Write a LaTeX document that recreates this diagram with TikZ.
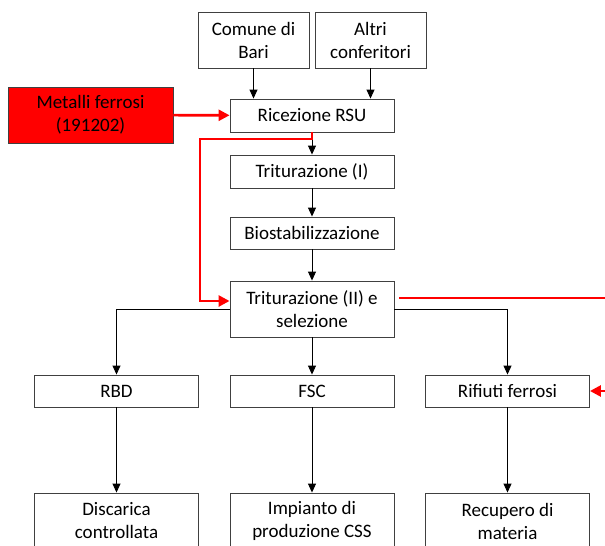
\documentclass[tikz,border=0pt]{standalone}
\usepackage{fontspec}
\setmainfont{Carlito}
\usepackage{tikz}
\usepackage{xcolor}
\usetikzlibrary{arrows.meta}

\begin{document}
\begin{tikzpicture}[x=1pt, y=-1pt,
    box/.style = {draw=black!75, line width=0.9pt, align=center, inner sep=0pt,
      minimum width=164pt, minimum height=33pt, font=\fontsize{19}{23}\selectfont},
    tall/.style = {box, minimum height=56pt},
    flow/.style = {draw=black, line width=0.9pt, -{Triangle[width=8pt,length=9pt]}},
    redflow/.style = {draw=red, line width=2.6pt, -{Triangle[width=11pt,length=11pt]}}]
    \useasboundingbox (0,0) rectangle (605,546);
    \clip (0,0) rectangle (605,546);

    \node[tall, minimum width=111pt] (comune) at (253.5,40) {Comune di\\Bari};
    \node[tall, minimum width=111pt] (altri) at (370.5,40) {Altri\\conferitori};
    \node[tall, fill=red, minimum width=165pt] (metalli) at (90.5,115) {Metalli ferrosi\\(191202)};
    \node[box] (ricezione) at (312,115.5) {Ricezione RSU};
    \node[box] (trit1) at (312,171.5) {Triturazione (I)};
    \node[box, minimum height=32pt] (bio) at (312,233) {Biostabilizzazione};
    \node[tall] (trit2) at (312,309) {Triturazione (II) e\\selezione};
    \node[box, minimum height=32pt] (rbd) at (116.5,391) {RBD};
    \node[box, minimum height=32pt] (fsc) at (312,391) {FSC};
    \node[box, minimum height=32pt] (rifiuti) at (507.5,391) {Rifiuti ferrosi};
    \node[tall] (discarica) at (116.5,521) {Discarica\\controllata};
    \node[tall] (impianto) at (312,521) {Impianto di\\produzione CSS};
    \node[tall] (recupero) at (507.5,521) {Recupero di\\materia};

    \coordinate (redturn) at (200,139);

    \draw[flow] (comune) -- (comune |- ricezione.north);
    \draw[flow] (altri) -- (altri |- ricezione.north);
    \draw[flow] (ricezione) -- (trit1);
    \draw[flow] (trit1) -- (bio);
    \draw[flow] (bio) -- (trit2);
    \draw[flow] (trit2.west) -| (rbd.north);
    \draw[flow] (trit2) -- (fsc);
    \draw[flow] (trit2.east) -| (rifiuti.north);
    \draw[flow] (rbd) -- (discarica);
    \draw[flow] (fsc) -- (impianto);
    \draw[flow] (rifiuti) -- (recupero);

    \draw[redflow] (metalli) -- (ricezione);
    \draw[redflow] (ricezione.south) |- (redturn) |- ([yshift=8pt]trit2.west);
    \draw[redflow] ([shift={(5pt,11pt)}]trit2.east) -- ++(220,0) |- (rifiuti.east);

  \end{tikzpicture}
\end{document}
